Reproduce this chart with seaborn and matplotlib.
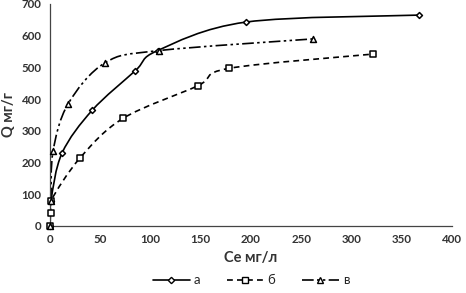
import numpy as np
import matplotlib
matplotlib.use("Agg")
import matplotlib.pyplot as plt
import seaborn as sns
import pandas as pd
from matplotlib.path import Path
from matplotlib.patches import PathPatch
from matplotlib.lines import Line2D

sns.set_style("white")
plt.rcParams['font.family'] = ['Lato', 'DejaVu Sans']

# data
x_a = [0, 1, 12, 42, 85, 107, 195, 367]
y_a = [0, 80, 230, 365, 490, 553, 643, 665]
x_b = [0, 0.5, 1, 30, 73, 147, 178, 321]
y_b = [0, 40, 80, 215, 340, 442, 497, 542]
x_c = [0, 1, 3, 18, 55, 108, 262]
y_c = [0, 80, 235, 385, 515, 553, 590]
series_names = ['а', 'б', 'в']
x_ticks = [0, 50, 100, 150, 200, 250, 300, 350, 400]
y_ticks = [0, 100, 200, 300, 400, 500, 600, 700]

fig = plt.figure(figsize=(4.66, 2.93), dpi=100)
ax = fig.add_axes([50/466, (293-226)/293, (452-50)/466, (226-4)/293])


def smooth_path(xs, ys):
    P = np.column_stack([xs, ys]).astype(float)
    n = len(P)
    verts = [P[0]]
    codes = [Path.MOVETO]
    for i in range(n - 1):
        p0 = P[i - 1] if i > 0 else P[i]
        p1 = P[i]
        p2 = P[i + 1]
        p3 = P[i + 2] if i + 2 < n else P[i + 1]
        c1 = p1 + (p2 - p0) / 6.0
        c2 = p2 - (p3 - p1) / 6.0
        verts += [c1, c2, p2]
        codes += [Path.CURVE4] * 3
    return Path(verts, codes)


styles = [
    (x_a, y_a, '-', 'D', 3.2, 9),
    (x_b, y_b, (0, (3.5, 2.5)), 's', 4.0, 16),
    (x_c, y_c, (0, (7, 2, 1.5, 2, 1.5, 2)), '^', 4.5, 18),
]
for name, (xs, ys, ls, mk, ms, area) in zip(series_names, styles):
    ax.add_patch(PathPatch(smooth_path(xs, ys), fill=False, edgecolor='black',
                           linewidth=1.2, linestyle=ls, zorder=2))
    df = pd.DataFrame({'x': xs, 'y': ys})
    sns.scatterplot(data=df, x='x', y='y', marker=mk, s=area, facecolor='white',
                    edgecolor='black', linewidth=1.1, ax=ax, legend=False,
                    zorder=3, clip_on=False)

ax.set_xlim(0, 400)
ax.set_ylim(0, 700)
ax.set_xticks(x_ticks)
ax.set_yticks(y_ticks)
for s in ['top', 'right']:
    ax.spines[s].set_visible(False)
for s in ['left', 'bottom']:
    ax.spines[s].set_color('#444444')
    ax.spines[s].set_linewidth(0.9)
ax.tick_params(axis='both', which='major', direction='out', length=4, width=0.9,
               color='#444444', labelsize=8.3, labelcolor='#333333', pad=2)
for lab in ax.get_xticklabels() + ax.get_yticklabels():
    lab.set_fontweight('bold')
ax.set_xlabel('Ce мг/л', fontsize=10.5, fontweight='bold', color='#333333', labelpad=4)
ax.set_ylabel('Q мг/г', fontsize=10.5, fontweight='bold', color='#333333', labelpad=4)

handles = []
for name, (xs, ys, ls, mk, ms, area) in zip(series_names, styles):
    handles.append(Line2D([], [], color='black', linestyle=ls, linewidth=1.2, marker=mk,
                          markersize=ms, markerfacecolor='white', markeredgecolor='black'))
ax.legend(handles, series_names, loc='center', bbox_to_anchor=(0.5, -0.245), ncol=3,
          frameon=False, fontsize=9.5, handlelength=2.8, columnspacing=2.0, handletextpad=0.3)

fig.savefig('out.png', dpi=100)
